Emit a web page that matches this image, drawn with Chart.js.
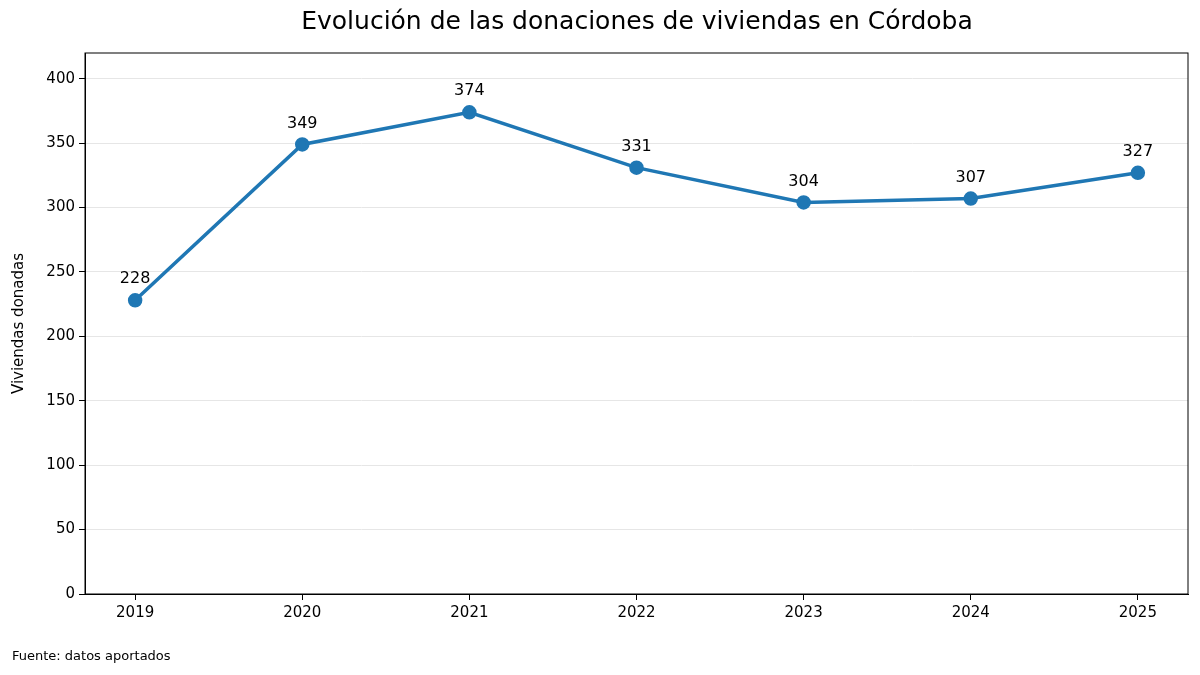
<!DOCTYPE html>
<html><head><meta charset="utf-8">
<script src="https://cdn.jsdelivr.net/npm/chart.js@4"></script>
<style>body{margin:0;background:#fff}#wrap{width:1200px;height:675px}</style>
</head><body><div id="wrap"><canvas id="c"></canvas></div>
<script>
const years = [2019, 2020, 2021, 2022, 2023, 2024, 2025];
const donated = [228, 349, 374, 331, 304, 307, 327];
const yTicks = [0, 50, 100, 150, 200, 250, 300, 350, 400];
const FONT = "'DejaVu Sans', sans-serif";

// title, footer, border and point labels
const extras = {
  id: 'extras',
  afterDraw(chart) {
    const ctx = chart.ctx, a = chart.chartArea;
    ctx.save();
    ctx.strokeStyle = '#000'; ctx.lineWidth = 1;
    ctx.strokeRect(a.left, a.top, a.right - a.left, a.bottom - a.top);
    ctx.fillStyle = '#000';
    ctx.textAlign = 'center'; ctx.textBaseline = 'middle';
    ctx.font = '25px ' + FONT;
    ctx.fillText('Evolución de las donaciones de viviendas en Córdoba', 637, 22);
    ctx.font = '16px ' + FONT;
    chart.getDatasetMeta(0).data.forEach((p, i) => {
      ctx.fillText(String(donated[i]), p.x, p.y - 21);
    });
    ctx.textAlign = 'left';
    ctx.font = '13px ' + FONT;
    ctx.fillText('Fuente: datos aportados', 12, 657);
    ctx.restore();
  }
};

new Chart(document.getElementById('c'), {
  type: 'line',
  data: {
    datasets: [{
      data: years.map((y, i) => ({x: y, y: donated[i]})),
      borderColor: '#1f77b4', backgroundColor: '#1f77b4',
      borderWidth: 3.5, pointRadius: 5.5, pointHoverRadius: 5.5, tension: 0
    }]
  },
  options: {
    responsive: true, maintainAspectRatio: false, animation: false,
    layout: {padding: {top: 53, right: 12, left: 8, bottom: 0}},
    plugins: {legend: {display: false}, tooltip: {enabled: false}},
    scales: {
      x: {
        type: 'linear', min: 2018.7, max: 2025.3,
        afterBuildTicks: s => { s.ticks = years.map(v => ({value: v})); },
        ticks: {callback: v => String(v), color: '#000', font: {family: FONT, size: 15}, maxRotation: 0, padding: 4},
        grid: {drawOnChartArea: false, tickColor: '#000', tickLength: 6},
        border: {color: '#000'},
        afterFit: s => { s.height = 81; }
      },
      y: {
        min: 0, max: 420,
        afterBuildTicks: s => { s.ticks = yTicks.map(v => ({value: v})); },
        ticks: {color: '#000', font: {family: FONT, size: 15}, padding: 4},
        grid: {color: '#e6e6e6', tickColor: '#000', tickLength: 6},
        border: {color: '#000'},
        title: {display: true, text: 'Viviendas donadas', color: '#000', font: {family: FONT, size: 15}, padding: 2},
        afterFit: s => { s.width = 77; }
      }
    }
  },
  plugins: [extras]
});
</script></body></html>
